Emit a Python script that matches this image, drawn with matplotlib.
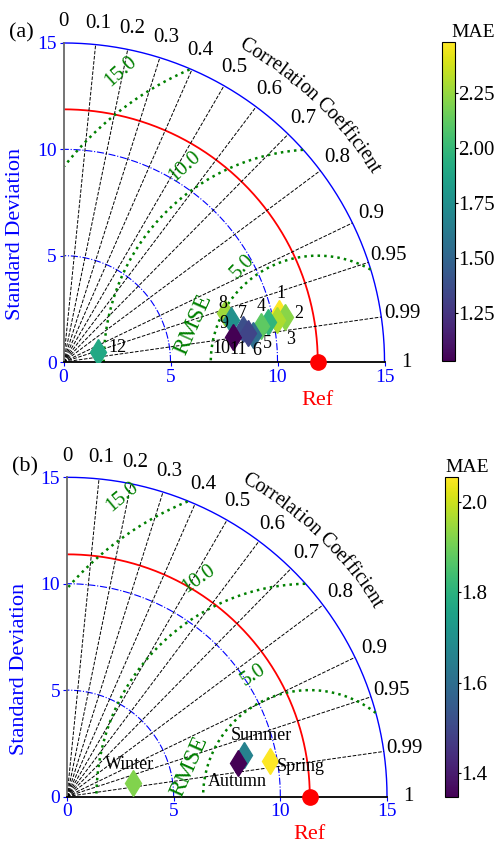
import numpy as np
import matplotlib.pyplot as plt
import matplotlib.colors as mcolors
import matplotlib.cm as cm
from matplotlib.textpath import TextPath
from matplotlib.font_manager import FontProperties

plt.rcParams['font.family'] = ['Liberation Serif', 'DejaVu Serif']

# panel (a): monthly points 1-12
names_a = ['1', '2', '3', '4', '5', '6', '7', '8', '9', '10', '11', '12']
std_a = [10.33, 10.56, 10.18, 9.75, 9.38, 8.96, 8.52, 7.88, 8.05, 8.02, 8.73, 1.66]
corr_a = [0.975, 0.980, 0.981, 0.981, 0.984, 0.990, 0.983, 0.957, 0.970, 0.989, 0.988, 0.957]
mae_a = [2.48, 2.22, 2.30, 1.98, 2.12, 1.55, 1.38, 2.27, 1.76, 1.03, 1.33, 1.90]
ref_a = 11.88

# panel (b): seasons
names_b = ['Spring', 'Summer', 'Autumn', 'Winter']
std_b = [9.65, 8.53, 8.15, 3.14]
corr_b = [0.985, 0.973, 0.981, 0.980]
mae_b = [2.054, 1.66, 1.347, 1.92]
ref_b = 11.38

corr_ticks = [0, 0.1, 0.2, 0.3, 0.4, 0.5, 0.6, 0.7, 0.8, 0.9, 0.95, 0.99, 1]
std_ticks = [0, 5, 10, 15]
rmse_levels = [5, 10, 15]

# label offsets in pixels (dx, dy)
offs_a = [(2, 20), (14, 4), (13, -20), (-7, 15), (6, -17), (3, -15), (0, 15),
          (-2, 10), (-7, -3), (-12, -12), (-10, -16), (20, 4)]
offs_b = [(31, -5), (17, 19), (0, -19), (-3, 19)]

# where the rmse labels sit: angle around Ref, extra radius
rlab_a = [(128, 0.7), (124, 1.1), (124, 1.5), (163, 6.1)]
rlab_b = [(115, 1.3), (117, 1.5), (122, 1.6), (166, 5.8)]

SMAX = 15


def arc_text(ax, s, r, a0, a1, fs):
    fp = FontProperties(family='Liberation Serif', size=fs)
    w = []
    for ch in s:
        if ch == ' ':
            w.append(fs * 0.3)
        else:
            w.append(TextPath((0, 0), ch, prop=fp).get_extents().width + fs * 0.08)
    w = np.array(w)
    c = (np.cumsum(w) - w / 2) / w.sum()
    for ch, f in zip(s, c):
        a = np.radians(a0 + (a1 - a0) * f)
        ax.text(r * np.cos(a), r * np.sin(a), ch, rotation=np.degrees(a) - 90,
                ha='center', va='center', fontsize=fs, rotation_mode='anchor', clip_on=False)


def taylor(fig, ax, cax, std, corr, mae, names, offs, ref, tag, lfs, cticks, cfmt, mae_x, rlab):
    std = np.array(std)
    corr = np.array(corr)
    ax.set_xlim(0, SMAX)
    ax.set_ylim(0, SMAX)
    for sp in ['top', 'right']:
        ax.spines[sp].set_visible(False)
    ax.spines['left'].set_color('dimgray')
    ax.spines['left'].set_linewidth(1.3)
    ax.spines['bottom'].set_color('black')
    ax.spines['bottom'].set_linewidth(1.3)

    th = np.linspace(0, np.pi / 2, 400)
    for s in std_ticks[1:-1]:
        ax.plot(s * np.cos(th), s * np.sin(th), color='blue', ls='-.', lw=0.8)
    ax.plot(SMAX * np.cos(th), SMAX * np.sin(th), color='blue', lw=1.0, clip_on=False)
    ax.plot(ref * np.cos(th), ref * np.sin(th), color='red', lw=1.3)

    for c in corr_ticks[1:-1]:
        a = np.arccos(c)
        ax.plot([0, SMAX * np.cos(a)], [0, SMAX * np.sin(a)], color='black', ls='--', lw=0.7)
    for c in corr_ticks:
        a = np.arccos(c)
        ax.text(16.0 * np.cos(a), 16.0 * np.sin(a), f'{c:g}', ha='center', va='center',
                fontsize=15, clip_on=False)
    arc_text(ax, 'Correlation Coefficient', 17.1, 61, 31.5, 14.5)

    # RMSE contours
    phi = np.linspace(0, np.pi, 800)
    for lev, (psi, extra) in zip(rmse_levels, rlab):
        x = ref + lev * np.cos(phi)
        y = lev * np.sin(phi)
        m = (x ** 2 + y ** 2 <= SMAX ** 2) & (x >= 0)
        ax.plot(np.where(m, x, np.nan), np.where(m, y, np.nan), ls=':', color='green', lw=1.8)
        pa = np.radians(psi)
        ax.text(ref + (lev + extra) * np.cos(pa), (lev + extra) * np.sin(pa), f'{lev:.1f}',
                color='green', fontsize=15, rotation=psi - 82, ha='center', va='center')
    psi, rr = rlab[-1]
    pa = np.radians(psi)
    ax.text(ref + rr * np.cos(pa), rr * np.sin(pa), 'RMSE', color='green', fontsize=17,
            rotation=66, ha='center', va='center')

    # reference point
    ax.plot([ref], [0], 'o', color='red', ms=11, clip_on=False, zorder=6)
    ax.annotate('Ref', (ref, 0), xytext=(0, -38), textcoords='offset pixels', ha='center',
                va='center', color='red', fontsize=16, annotation_clip=False)

    # model points
    norm = mcolors.Normalize(vmin=min(mae), vmax=max(mae))
    cmap = plt.get_cmap('viridis')
    xs = std * corr
    ys = std * np.sqrt(1 - corr ** 2)
    for i in range(len(std)):
        col = cmap(norm(mae[i]))
        ax.plot(xs[i], ys[i], marker='d', ms=13.5, color=col, mec=col, ls='none', zorder=5)
        ax.annotate(names[i], (xs[i], ys[i]), xytext=offs[i], textcoords='offset pixels',
                    ha='center', va='center', fontsize=lfs, zorder=7)

    ax.set_xticks(std_ticks)
    ax.set_yticks(std_ticks)
    ax.tick_params(colors='blue', labelsize=14, length=3, pad=2)
    ax.set_ylabel('Standard Deviation', color='blue', fontsize=16)
    ax.yaxis.set_label_coords(-0.12, 0.40)

    sm = cm.ScalarMappable(norm=norm, cmap=cmap)
    cb = fig.colorbar(sm, cax=cax)
    cb.set_ticks(cticks)
    cb.ax.set_yticklabels([cfmt % t for t in cticks])
    cb.ax.tick_params(labelsize=15, length=2, pad=0.5)
    cb.outline.set_linewidth(0.8)
    cax.text(mae_x, 1.005, 'MAE', transform=cax.transAxes, ha='left', va='bottom', fontsize=14)

    fig.text(ax.get_position().x0 - 0.085, ax.get_position().y1 + 0.012, tag, fontsize=16,
             ha='center', va='center')


fig = plt.figure(figsize=(4.97, 8.46), dpi=100)
ax1 = fig.add_axes([0.1278, 0.5721, 0.6459, 0.3771])
cax1 = fig.add_axes([0.8887, 0.5727, 0.0268, 0.3771])
ax2 = fig.add_axes([0.1348, 0.0585, 0.6439, 0.3773])
cax2 = fig.add_axes([0.8954, 0.0576, 0.0256, 0.3783])

taylor(fig, ax1, cax1, std_a, corr_a, mae_a, names_a, offs_a, ref_a, '(a)', 13,
       [1.25, 1.5, 1.75, 2.0, 2.25], '%.2f', 0.75, rlab_a)
taylor(fig, ax2, cax2, std_b, corr_b, mae_b, names_b, offs_b, ref_b, '(b)', 13,
       [1.4, 1.6, 1.8, 2.0], '%.1f', 0.0, rlab_b)

fig.savefig('out.png', dpi=100)
